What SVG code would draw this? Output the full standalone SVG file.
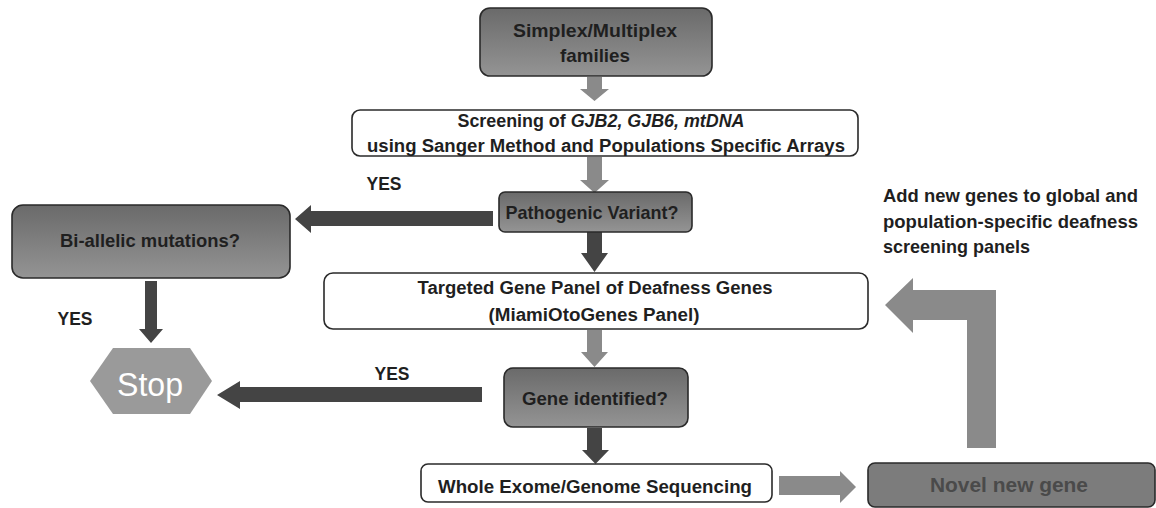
<svg xmlns="http://www.w3.org/2000/svg" width="1156" height="508" viewBox="0 0 1156 508">
<defs>
<linearGradient id="g" x1="0" y1="0" x2="0" y2="1">
<stop offset="0" stop-color="#6a6a6a"/>
<stop offset="1" stop-color="#949494"/>
</linearGradient>
<style>
.t{font-family:"Liberation Sans",Arial,sans-serif;font-weight:bold;fill:#1f1f1f;text-anchor:middle}
.gb{fill:url(#g);stroke:#2a2a2a;stroke-width:1.6}
.wb{fill:#fff;stroke:#2a2a2a;stroke-width:1.6}
.dk{fill:#444}
.md{fill:#8a8a8a}
</style>
</defs>
<rect width="1156" height="508" fill="#fff"/>
<g id="connectors">
<polygon class="md" points="587,77 602,77 602,89 609,89 594.5,101 580,89 587,89"/>
<polygon class="md" points="587,157 602,157 602,180 609,180 594.5,193 580,180 587,180"/>
<polygon class="dk" points="493,211 311,211 311,205 295,219 311,233 311,226 493,226"/>
<polygon class="dk" points="587,232 602,232 602,253 608,253 594.5,272 581,253 587,253"/>
<polygon class="dk" points="145,281 157,281 157,329 163,329 151,343 139,329 145,329"/>
<polygon class="dk" points="482,387 240,387 240,381 217,395 240,409 240,402 482,402"/>
<polygon class="md" points="587,330 602,330 602,352 608,352 594.5,367 581,352 587,352"/>
<polygon class="dk" points="587,428 602,428 602,450 609,450 595.5,464 582,450 587,450"/>
<polygon class="md" points="779,476 840,476 840,471 856,487 840,503 840,495 779,495"/>
<polygon class="md" points="967,448 996,448 996,290 913,290 913,278 885,305 913,333 913,320 967,320"/>
</g>
<g id="n-simplex">
<rect class="gb" x="480" y="8" width="232" height="68" rx="10"/>
<text class="t" x="595" y="37" font-size="19" textLength="164" lengthAdjust="spacingAndGlyphs">Simplex/Multiplex</text>
<text class="t" x="595" y="62" font-size="19" textLength="70" lengthAdjust="spacingAndGlyphs">families</text>
</g>
<g id="n-screening">
<rect class="wb" x="352" y="110" width="506" height="46" rx="8"/>
<text class="t" x="601" y="127" font-size="18" textLength="287" lengthAdjust="spacingAndGlyphs">Screening of <tspan font-style="italic">GJB2, GJB6, mtDNA</tspan></text>
<text class="t" x="606" y="152" font-size="18" textLength="478" lengthAdjust="spacingAndGlyphs">using Sanger Method and Populations Specific Arrays</text>
</g>
<g id="n-pathogenic">
<rect class="gb" x="499" y="192" width="193" height="40" rx="6"/>
<text class="t" x="592" y="219" font-size="19" textLength="173" lengthAdjust="spacingAndGlyphs">Pathogenic Variant?</text>
</g>
<text class="t" x="384" y="190" font-size="19" textLength="35" lengthAdjust="spacingAndGlyphs">YES</text>
<g id="n-biallelic">
<rect class="gb" x="12" y="205" width="278" height="73" rx="11"/>
<text class="t" x="150" y="247" font-size="19" textLength="180" lengthAdjust="spacingAndGlyphs">Bi-allelic mutations?</text>
</g>
<text class="t" x="75" y="325" font-size="19" textLength="35" lengthAdjust="spacingAndGlyphs">YES</text>
<g id="n-stop">
<polygon points="90,381 113,348 190,348 212,381 190,414 113,414" fill="#9a9a9a"/>
<text x="150" y="396" font-family="'Liberation Sans',Arial,sans-serif" font-size="34" fill="#fff" text-anchor="middle" textLength="66" lengthAdjust="spacingAndGlyphs">Stop</text>
</g>
<text class="t" x="392" y="380" font-size="19" textLength="35" lengthAdjust="spacingAndGlyphs">YES</text>
<g id="n-targeted">
<rect class="wb" x="324" y="273" width="544" height="56" rx="9"/>
<text class="t" x="595" y="294" font-size="18" textLength="355" lengthAdjust="spacingAndGlyphs">Targeted Gene Panel  of Deafness Genes</text>
<text class="t" x="594" y="321" font-size="18" textLength="211" lengthAdjust="spacingAndGlyphs">(MiamiOtoGenes Panel)</text>
</g>
<g id="n-geneid">
<rect class="gb" x="504" y="368" width="184" height="59" rx="9"/>
<text class="t" x="595" y="405" font-size="19" textLength="146" lengthAdjust="spacingAndGlyphs">Gene identified?</text>
</g>
<g id="n-wes">
<rect class="wb" x="421" y="464" width="351" height="38" rx="7"/>
<text class="t" x="595" y="493" font-size="18" textLength="314" lengthAdjust="spacingAndGlyphs">Whole Exome/Genome Sequencing</text>
</g>
<g id="n-novel">
<rect x="868" y="463" width="287" height="44" rx="7" fill="#7c7c7c" stroke="#2a2a2a" stroke-width="1.6"/>
<text class="t" x="1009" y="492" font-size="20" style="fill:#4a4a4a" textLength="158" lengthAdjust="spacingAndGlyphs">Novel new gene</text>
</g>
<g id="n-add">
<text class="t" x="883" y="202" font-size="19" style="text-anchor:start" textLength="255" lengthAdjust="spacingAndGlyphs">Add new genes to global and</text>
<text class="t" x="883" y="228" font-size="19" style="text-anchor:start" textLength="255" lengthAdjust="spacingAndGlyphs">population-specific deafness</text>
<text class="t" x="883" y="253" font-size="19" style="text-anchor:start" textLength="147" lengthAdjust="spacingAndGlyphs">screening panels</text>
</g>
</svg>
